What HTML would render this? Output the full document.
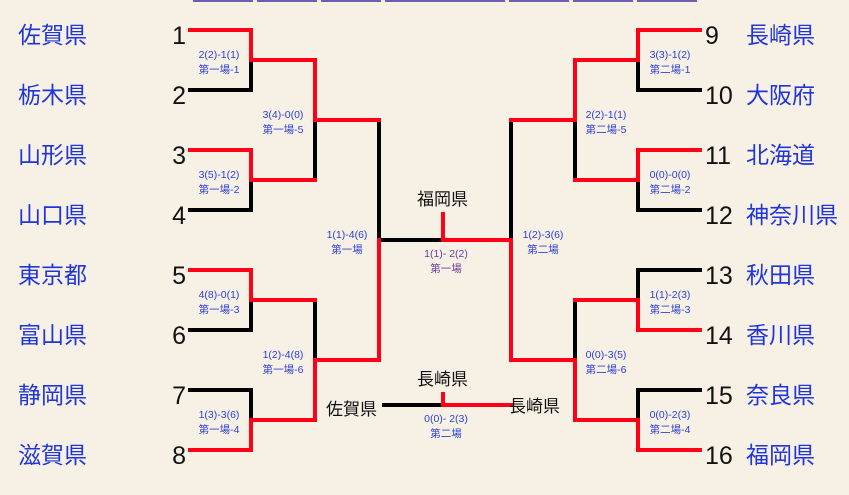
<!DOCTYPE html>
<html><head><meta charset="utf-8"><style>
body{margin:0;background:#f7f1e5;}
svg{display:block;font-family:"Liberation Sans","Noto Sans CJK JP",sans-serif;}
.p{fill:#1f35d8;font-size:23px;}
.n{fill:#111;font-size:25px;}
.s{fill:#2a3fd8;font-size:10.5px;text-anchor:middle;}
.c{fill:#111;font-size:17px;}
</style></head><body>
<svg width="849" height="495" viewBox="0 0 849 495">
<rect width="849" height="495" fill="#f7f1e5"/>
<g fill="#6a5fb0">
<rect x="193" y="0" width="60" height="2"/><rect x="257" y="0" width="60" height="2"/><rect x="321" y="0" width="60" height="2"/><rect x="385" y="0" width="120" height="2"/><rect x="509" y="0" width="60" height="2"/><rect x="573" y="0" width="60" height="2"/><rect x="637" y="0" width="60" height="2"/>
</g>
<g fill="none" stroke-width="4" stroke-linecap="square">
<g stroke="#000">
<path d="M190 90H251V60"/><path d="M190 210H251V180"/><path d="M315 120V180"/>
<path d="M190 330H251V300"/><path d="M190 390H251V420"/><path d="M315 300V360"/>
<path d="M379 120V240H443"/>
<path d="M700 90H638V60"/><path d="M700 210H638V180"/><path d="M575 120V180"/>
<path d="M700 270H638V300"/><path d="M700 390H638V420"/><path d="M575 300V360"/>
<path d="M511 240V120"/>
<path d="M384 405H443"/>
</g>
<g stroke="#ff0016">
<path d="M190 30H251V60H315V120H379"/><path d="M190 150H251V180H315"/>
<path d="M190 270H251V300H315"/><path d="M190 450H251V420H315V360H379V240"/>
<path d="M443 214V240H511V360H575V420H638V450H700"/>
<path d="M700 30H638V60H575V120H511"/><path d="M700 150H638V180H575"/>
<path d="M700 330H638V300H575"/><path d="M575 360H511"/>
<path d="M443 394V405H511"/>
</g>
</g>
<g class="p">
<text x="18" y="43">佐賀県</text><text x="18" y="103">栃木県</text><text x="18" y="163">山形県</text><text x="18" y="223">山口県</text>
<text x="18" y="283">東京都</text><text x="18" y="343">富山県</text><text x="18" y="403">静岡県</text><text x="18" y="463">滋賀県</text>
<text x="746" y="43">長崎県</text><text x="746" y="103">大阪府</text><text x="746" y="163">北海道</text><text x="746" y="223">神奈川県</text>
<text x="746" y="283">秋田県</text><text x="746" y="343">香川県</text><text x="746" y="403">奈良県</text><text x="746" y="463">福岡県</text>
</g>
<g class="n">
<g text-anchor="end">
<text x="186" y="44">1</text><text x="186" y="104">2</text><text x="186" y="164">3</text><text x="186" y="224">4</text>
<text x="186" y="284">5</text><text x="186" y="344">6</text><text x="186" y="404">7</text><text x="186" y="464">8</text>
</g>
<text x="705" y="44">9</text><text x="705" y="104">10</text><text x="705" y="164">11</text><text x="705" y="224">12</text>
<text x="705" y="284">13</text><text x="705" y="344">14</text><text x="705" y="404">15</text><text x="705" y="464">16</text>
</g>
<g class="s">
<text x="219" y="58">2(2)-1(1)</text><text x="219" y="73">第一場-1</text>
<text x="219" y="178">3(5)-1(2)</text><text x="219" y="193">第一場-2</text>
<text x="219" y="298">4(8)-0(1)</text><text x="219" y="313">第一場-3</text>
<text x="219" y="418">1(3)-3(6)</text><text x="219" y="433">第一場-4</text>
<text x="283" y="118">3(4)-0(0)</text><text x="283" y="133">第一場-5</text>
<text x="283" y="358">1(2)-4(8)</text><text x="283" y="373">第一場-6</text>
<text x="347" y="238">1(1)-4(6)</text><text x="347" y="253">第一場</text>
<text x="670" y="58">3(3)-1(2)</text><text x="670" y="73">第二場-1</text>
<text x="670" y="178">0(0)-0(0)</text><text x="670" y="193">第二場-2</text>
<text x="670" y="298">1(1)-2(3)</text><text x="670" y="313">第二場-3</text>
<text x="670" y="418">0(0)-2(3)</text><text x="670" y="433">第二場-4</text>
<text x="606" y="118">2(2)-1(1)</text><text x="606" y="133">第二場-5</text>
<text x="606" y="358">0(0)-3(5)</text><text x="606" y="373">第二場-6</text>
<text x="543" y="238">1(2)-3(6)</text><text x="543" y="253">第二場</text>
<text x="446" y="257" style="fill:#6a3a9a">1(1)- 2(2)</text><text x="446" y="272" style="fill:#6a3a9a">第一場</text>
<text x="446" y="422">0(0)- 2(3)</text><text x="446" y="437">第二場</text>
</g>
<g class="c">
<text x="417" y="205">福岡県</text>
<text x="417" y="385">長崎県</text>
<text x="326" y="415">佐賀県</text>
<text x="509" y="412">長崎県</text>
</g>
</svg>
</body></html>
